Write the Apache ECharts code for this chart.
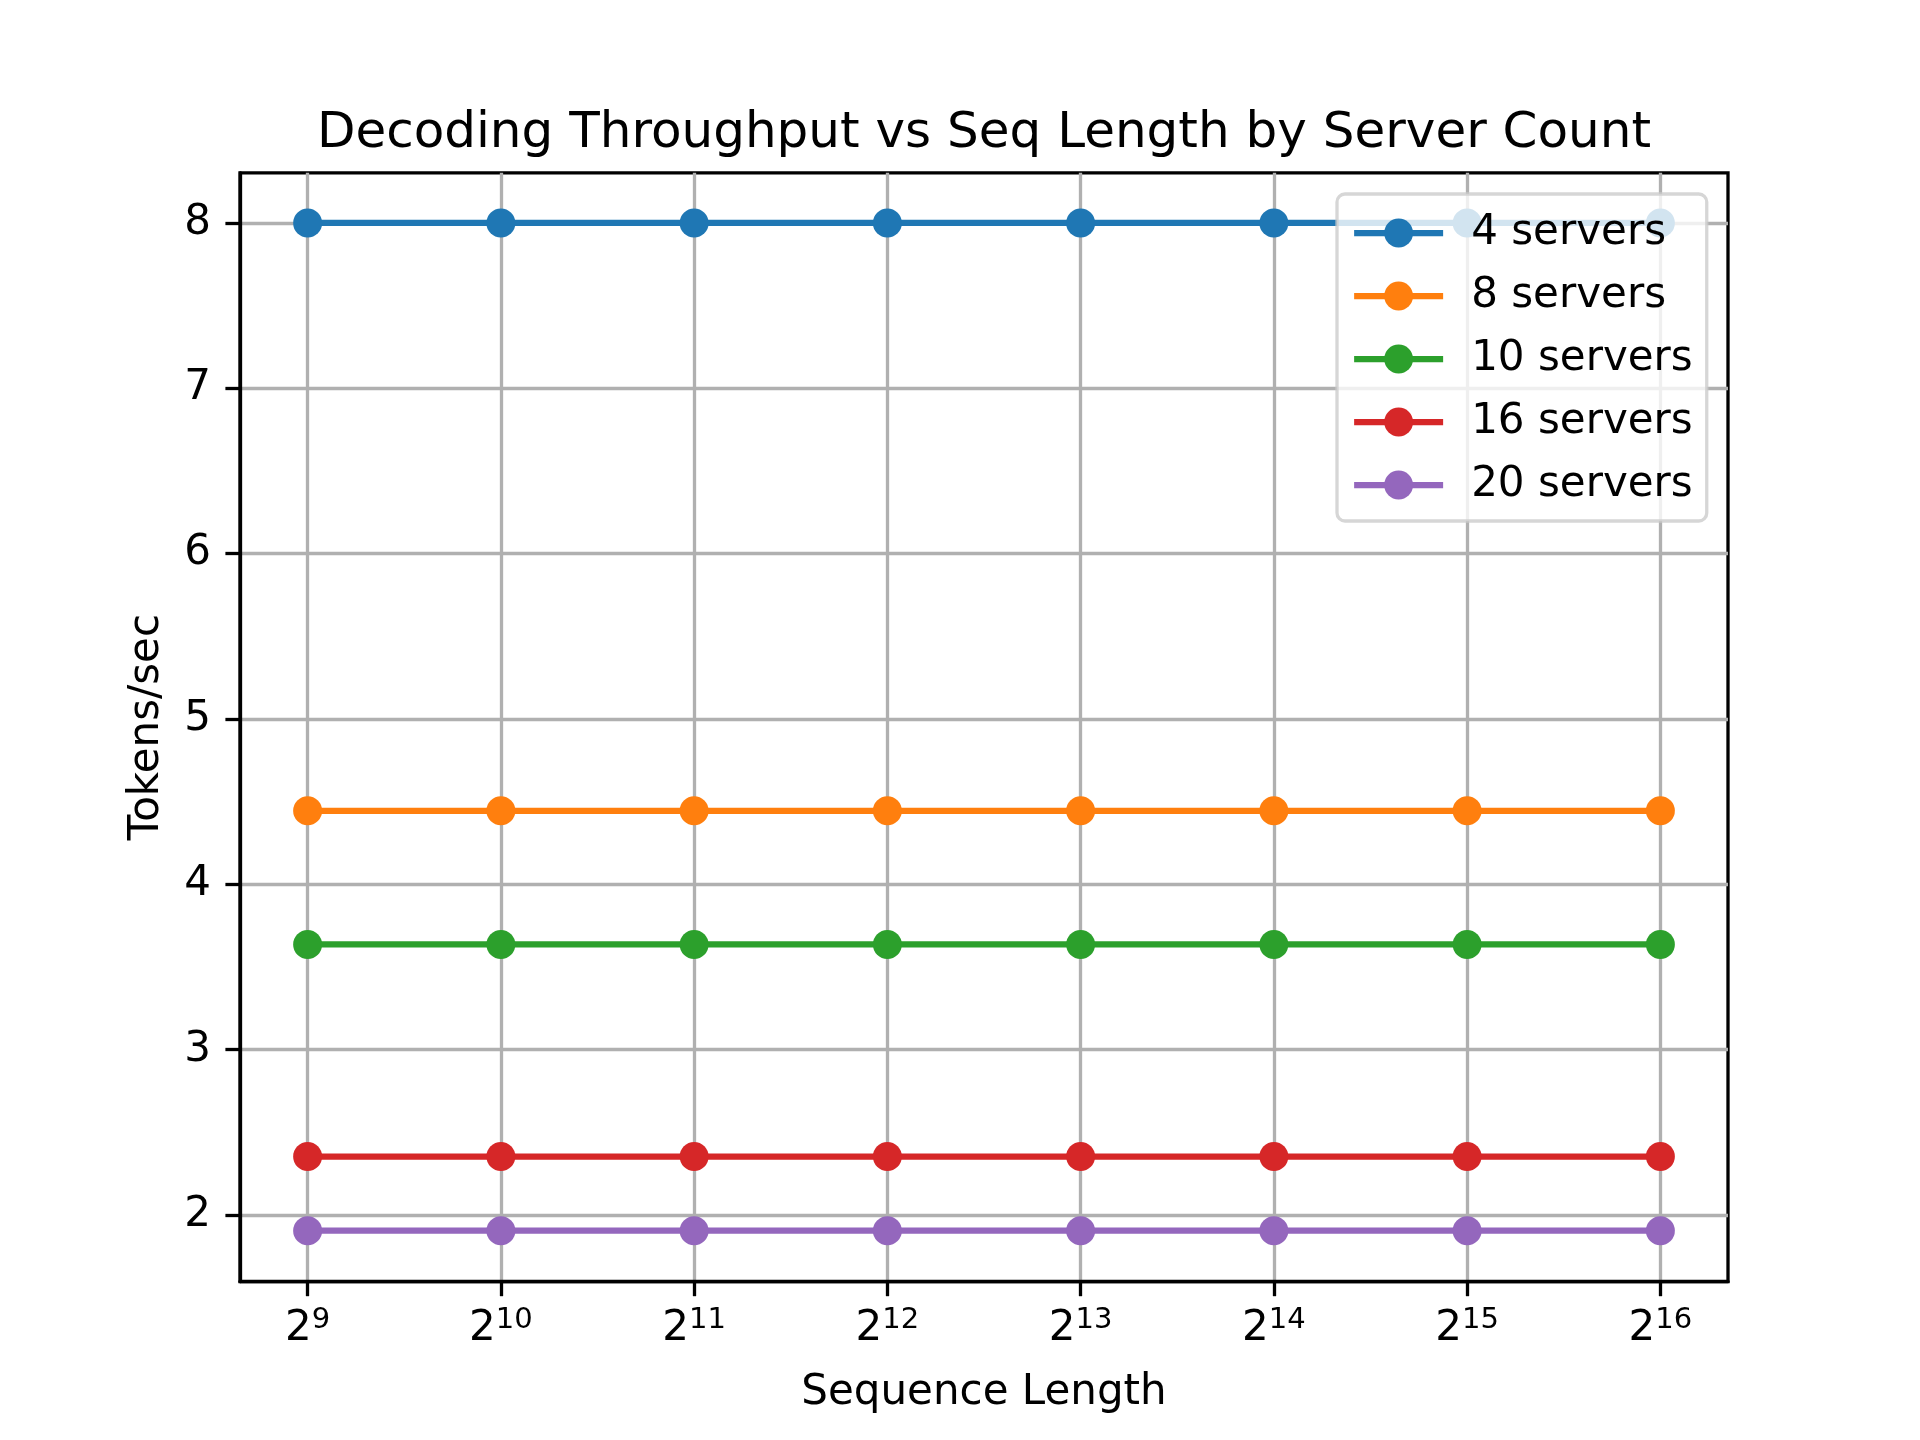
<!DOCTYPE html>
<html>
<head>
<meta charset="utf-8">
<script src="https://cdn.jsdelivr.net/npm/echarts@6/dist/echarts.min.js"></script>
<style>
html,body{margin:0;padding:0;background:#fff;}
#chart{width:1920px;height:1440px;}
</style>
</head>
<body>
<div id="chart"></div>
<script>
// Sequence length exponents (Sequence Length = 2^n)
const seqExponents = [9, 10, 11, 12, 13, 14, 15, 16];
const xTickValues = [9, 10, 11, 12, 13, 14, 15, 16];
const yTickValues = [2, 3, 4, 5, 6, 7, 8];

const seriesNames = ['4 servers', '8 servers', '10 servers', '16 servers', '20 servers'];
const servers4 = [8.0, 8.0, 8.0, 8.0, 8.0, 8.0, 8.0, 8.0];
const servers8 = [4.444, 4.444, 4.444, 4.444, 4.444, 4.444, 4.444, 4.444];
const servers10 = [3.636, 3.636, 3.636, 3.636, 3.636, 3.636, 3.636, 3.636];
const servers16 = [2.353, 2.353, 2.353, 2.353, 2.353, 2.353, 2.353, 2.353];
const servers20 = [1.905, 1.905, 1.905, 1.905, 1.905, 1.905, 1.905, 1.905];
const seriesValues = [servers4, servers8, servers10, servers16, servers20];
const colors = ['#1f77b4', '#ff7f0e', '#2ca02c', '#d62728', '#9467bd'];

const FONT = 'DejaVu Sans';
const chart = echarts.init(document.getElementById('chart'), null, {renderer: 'canvas'});

const series = seriesNames.map((name, i) => ({
  name: name,
  type: 'line',
  data: seqExponents.map((x, j) => [x, seriesValues[i][j]]),
  symbol: 'circle',
  symbolSize: 29,
  lineStyle: {width: 6.25, color: colors[i]},
  itemStyle: {color: colors[i]},
  z: 3
}));

chart.setOption({
  animation: false,
  backgroundColor: '#ffffff',
  title: {
    text: 'Decoding Throughput vs Seq Length by Server Count',
    left: 984,
    top: 109,
    textAlign: 'center',
    padding: 0,
    textStyle: {fontFamily: FONT, fontSize: 50, fontWeight: 'normal', color: '#000'}
  },
  grid: {
    left: 240, right: 192, top: 172.8, bottom: 158.4,
    show: true, borderColor: '#000', borderWidth: 3.3, backgroundColor: 'transparent'
  },
  legend: {
    orient: 'vertical',
    left: 1337,
    top: 194,
    padding: [15, 14, 12, 14],
    itemWidth: 89,
    itemHeight: 36,
    itemGap: 15,
    backgroundColor: 'rgba(255,255,255,0.8)',
    borderColor: 'rgba(204,204,204,0.8)',
    borderWidth: 3.3,
    borderRadius: 8,
    lineStyle: {width: 6.25},
    textStyle: {fontFamily: FONT, fontSize: 42, color: '#000', lineHeight: 48, padding: [0, 0, 0, 23]},
    data: seriesNames,
    z: 10
  },
  xAxis: {
    type: 'value',
    min: 8.65,
    max: 16.35,
    name: 'Sequence Length',
    nameLocation: 'middle',
    nameGap: 90,
    nameTextStyle: {fontFamily: FONT, fontSize: 42, color: '#000'},
    axisLine: {show: true, onZero: false, lineStyle: {color: '#000', width: 3.3}},
    axisTick: {show: true, length: 14.6, lineStyle: {color: '#000', width: 3.3}, customValues: xTickValues},
    axisLabel: {
      customValues: xTickValues,
      margin: 24,
      formatter: function (v) { return '{b|2}{s|' + v + '}'; },
      rich: {
        b: {fontFamily: FONT, fontSize: 42, color: '#000', lineHeight: 44, verticalAlign: 'bottom'},
        s: {fontFamily: FONT, fontSize: 29, color: '#000', lineHeight: 30, verticalAlign: 'top'}
      }
    },
    splitLine: {show: true, lineStyle: {color: '#b0b0b0', width: 3.3}},
    minorTick: {show: false}
  },
  yAxis: {
    type: 'value',
    min: 1.597,
    max: 8.303,
    name: 'Tokens/sec',
    nameLocation: 'middle',
    nameGap: 72,
    nameTextStyle: {fontFamily: FONT, fontSize: 42, color: '#000'},
    axisLine: {show: true, onZero: false, lineStyle: {color: '#000', width: 3.3}},
    axisTick: {show: true, length: 14.6, lineStyle: {color: '#000', width: 3.3}, customValues: yTickValues},
    axisLabel: {
      customValues: yTickValues,
      margin: 29,
      fontFamily: FONT, fontSize: 42, color: '#000',
      formatter: function (v) { return String(v); }
    },
    splitLine: {show: true, lineStyle: {color: '#b0b0b0', width: 3.3}}
  },
  series: series
});
</script>
</body>
</html>
